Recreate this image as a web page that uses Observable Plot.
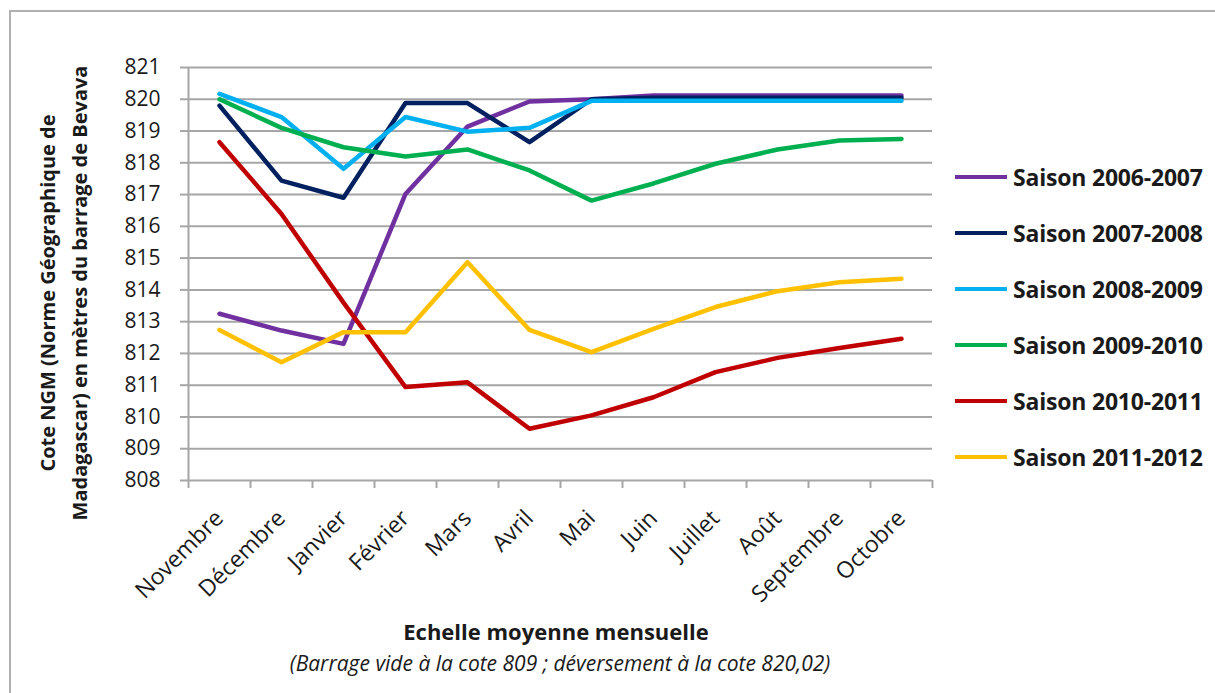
<!DOCTYPE html>
<html><head><meta charset="utf-8">
<script src="https://cdn.jsdelivr.net/npm/d3@7"></script>
<script src="https://cdn.jsdelivr.net/npm/@observablehq/plot@0.6"></script>
<style>
html,body{margin:0;padding:0;background:#fff;overflow:hidden;width:1215px;height:693px;}
#wrap{position:relative;width:1215px;height:693px;font-family:"Open Sans",sans-serif;color:#1a1a1a;}
#frame{position:absolute;left:9px;top:10px;width:1300px;height:800px;border:2px solid #b0b0b0;box-sizing:border-box;}
#chart{position:absolute;left:0;top:0;}
.leg{position:absolute;left:955px;height:30px;display:flex;align-items:center;}
.leg .sw{width:52px;height:4px;margin-right:6px;}
.leg .tx{font-weight:700;font-size:23px;white-space:nowrap;letter-spacing:-0.2px;}
#ytitle{position:absolute;left:64px;top:293px;transform:translate(-50%,-50%) rotate(-90deg);font-weight:700;font-size:20px;line-height:32px;text-align:center;white-space:nowrap;}
#xtitle{position:absolute;left:556px;top:631px;transform:translate(-50%,-50%);font-weight:700;font-size:22px;white-space:nowrap;}
#xsub{position:absolute;left:560px;top:663px;transform:translate(-50%,-50%);font-style:italic;font-size:21px;white-space:nowrap;}
</style></head>
<body>
<div id="wrap">
<div id="frame"></div>
<div id="chart"></div>
<div id="ytitle">Cote NGM (Norme Géographique de<br>Madagascar) en mètres du barrage de Bevava</div>
<div id="xtitle">Echelle moyenne mensuelle</div>
<div id="xsub">(Barrage vide à la cote 809 ; déversement à la cote 820,02)</div>
</div>
<script>
const months = ["Novembre","Décembre","Janvier","Février","Mars","Avril","Mai","Juin","Juillet","Août","Septembre","Octobre"];
const seasons = ["Saison 2006-2007","Saison 2007-2008","Saison 2008-2009","Saison 2009-2010","Saison 2010-2011","Saison 2011-2012"];
const colors = ["#7030A0","#002060","#00B0F0","#00B050","#C00000","#FFC000"];
const s2006_2007 = [813.25, 812.72, 812.3, 817.02, 819.14, 819.93, 820.0, 820.12, 820.12, 820.12, 820.12, 820.12];
const s2007_2008 = [819.8, 817.44, 816.9, 819.88, 819.88, 818.65, 820.0, 820.05, 820.05, 820.05, 820.05, 820.05];
const s2008_2009 = [820.17, 819.44, 817.81, 819.44, 818.98, 819.1, 819.95, 819.95, 819.95, 819.95, 819.95, 819.95];
const s2009_2010 = [820.0, 819.1, 818.49, 818.2, 818.42, 817.76, 816.81, 817.35, 817.97, 818.42, 818.7, 818.75];
const s2010_2011 = [818.65, 816.39, 813.6, 810.94, 811.09, 809.63, 810.05, 810.62, 811.41, 811.86, 812.17, 812.46];
const s2011_2012 = [812.74, 811.72, 812.67, 812.67, 814.87, 812.74, 812.04, 812.77, 813.46, 813.96, 814.24, 814.35];
const yTicks = [808,809,810,811,812,813,814,815,816,817,818,819,820,821];

const seriesValues = [s2006_2007, s2007_2008, s2008_2009, s2009_2010, s2010_2011, s2011_2012];
const rows = [];
seriesValues.forEach((vals, si) => vals.forEach((v, i) => rows.push({season: seasons[si], i, v})));

const grey = "#a6a6a6";
const plot = Plot.plot({
  width: 1215, height: 693,
  marginLeft: 188, marginRight: 283, marginTop: 67, marginBottom: 213,
  style: {fontFamily: "'Open Sans', sans-serif", background: "transparent", color: "#1a1a1a"},
  x: {domain: [-0.5, 11.5], axis: null},
  y: {domain: [808, 821], axis: null},
  color: {domain: seasons, range: colors},
  marks: [
    Plot.gridY(yTicks, {stroke: grey, strokeOpacity: 1, strokeWidth: 2}),
    Plot.ruleX([-0.5], {y1: 808, y2: 821, stroke: grey, strokeWidth: 2}),
    Plot.axisY({ticks: yTicks, tickSize: 8, tickPadding: 20, fontSize: 21, stroke: grey, strokeWidth: 2, fill: "#1a1a1a", label: null}),
    Plot.axisX({ticks: d3.range(-0.5, 12, 1), tickSize: 8, tickFormat: () => "", stroke: grey, strokeWidth: 2, label: null}),
    Plot.axisX({ticks: d3.range(0, 12), tickSize: 0, tickPadding: 34, tickRotate: -45, tickFormat: i => months[i], fontSize: 23, fill: "#1a1a1a", label: null}),
    Plot.lineY(rows, {x: "i", y: "v", z: "season", stroke: "season", strokeWidth: 4.5, strokeLinejoin: "round", strokeLinecap: "round"})
  ]
});
document.getElementById("chart").appendChild(plot);

const wrap = document.getElementById("wrap");
seasons.forEach((s, k) => {
  const d = document.createElement("div");
  d.className = "leg";
  d.style.top = (177 + 56 * k - 15) + "px";
  d.innerHTML = `<div class="sw" style="background:${colors[k]}"></div><div class="tx">${s}</div>`;
  wrap.appendChild(d);
});
</script>
</body></html>
